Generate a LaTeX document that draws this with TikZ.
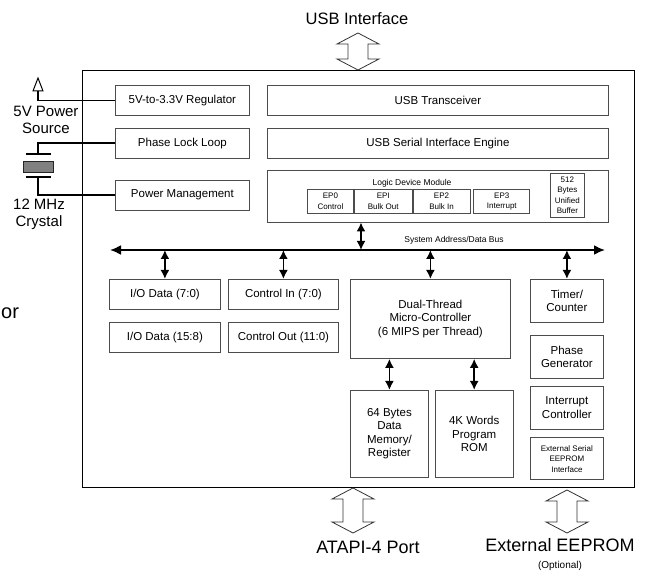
\documentclass[tikz,border=0pt]{standalone}
\usepackage{fontspec}
\setmainfont{Liberation Sans}
\usetikzlibrary{arrows.meta,positioning}

% hollow double-headed port arrow: centre x, top y, bottom y
\newcommand{\portarrow}[3]{%
  \draw[port] (#1,#2) -- ++(21,11) -- ++(-11,0) -- (#1+10,#3-11) -- ++(11,0)
    -- (#1,#3) -- ++(-21,-11) -- ++(11,0) -- (#1-10,#2+11) -- ++(-11,0) -- cycle;}

\begin{document}
\begin{tikzpicture}[
  x=1pt, y=-1pt,
  block/.style={rectangle, draw=black!70, line width=0.8pt, align=center,
                inner sep=1pt, anchor=north west,
                font=\fontsize{11.5}{13.5}\selectfont},
  epbox/.style={block, font=\fontsize{8}{10.5}\selectfont},
  wire/.style={line width=1.6pt},
  bus/.style={{Latex[length=11pt,width=10pt]}-{Latex[length=11pt,width=10pt]},
              line width=2pt},
  tap/.style={{Latex[length=9pt,width=9pt]}-{Latex[length=9pt,width=9pt]},
              line width=1.8pt},
  port/.style={draw=black!80, line width=0.8pt},
  biglabel/.style={align=center, font=\fontsize{15}{17}\selectfont},
]
  \useasboundingbox (0,0) rectangle (649,572);

  % Chip outline
  \node[block, draw=black, line width=1.2pt, minimum width=552pt,
        minimum height=417pt] (chip) at (82,70) {};

  % Left column
  \node[block, minimum width=134pt, minimum height=30pt] (reg) at (115,85) {5V-to-3.3V Regulator};
  \node[block, minimum width=134pt, minimum height=30pt, below=12pt of reg] (pll) {Phase Lock Loop};
  \node[block, minimum width=134pt, minimum height=30pt, below=21pt of pll] (pwr) {Power Management};

  % USB side
  \node[block, minimum width=341pt, minimum height=30pt] (xcvr) at (267,85) {USB Transceiver};
  \node[block, minimum width=341pt, minimum height=30pt, below=12pt of xcvr] (sie) {USB Serial Interface Engine};
  \node[block, minimum width=341pt, minimum height=52pt, below=11pt of sie] (ldm) {};
  \node[font=\fontsize{8.5}{10}\selectfont] (ldmlabel) at (412,183) {Logic Device Module};
  \node[epbox, minimum width=46pt, minimum height=24pt] (ep0) at (307,189) {EP0\\Control};
  \node[epbox, minimum width=58pt, minimum height=24pt, right=0pt of ep0] (ep1) {EPI\\Bulk Out};
  \node[epbox, minimum width=57pt, minimum height=24pt, right=0pt of ep1] (ep2) {EP2\\Bulk In};
  \node[epbox, minimum width=56pt, minimum height=24pt, right=3pt of ep2] (ep3) {EP3\\Interrupt};
  \node[epbox, minimum width=34pt, minimum height=44pt] (buf) at (550,173) {512\\Bytes\\Unified\\Buffer};

  % System bus
  \coordinate (busl) at (110,250);
  \coordinate (busr) at (605,250);
  \coordinate (ldmtap) at (361,250);
  \draw[bus] (busl) -- (busr);
  \node[font=\fontsize{8.5}{10}\selectfont] (buslabel) at (454,240) {System Address/Data Bus};
  \draw[tap] (ldmtap |- ldm.south) -- (ldmtap);

  % Blocks under the bus
  \node[block, minimum width=111pt, minimum height=30pt] (iolo) at (109,279) {I/O Data (7:0)};
  \node[block, minimum width=111pt, minimum height=30pt, below=12pt of iolo] (iohi) {I/O Data (15:8)};
  \node[block, minimum width=110pt, minimum height=30pt] (ctlin) at (228,279) {Control In (7:0)};
  \node[block, minimum width=110pt, minimum height=30pt, below=12pt of ctlin] (ctlout) {Control Out (11:0)};
  \node[block, minimum width=160pt, minimum height=79pt] (mcu) at (350,279) {Dual-Thread\\Micro-Controller\\(6 MIPS per Thread)};
  \node[block, minimum width=78pt, minimum height=87pt] (ram) at (350,390) {64 Bytes\\Data\\Memory/\\Register};
  \node[block, minimum width=78pt, minimum height=87pt, right=6pt of ram] (rom) {4K Words\\Program\\ROM};

  % Right column
  \node[block, minimum width=73pt, minimum height=43pt] (timer) at (530,279) {Timer/\\Counter};
  \node[block, minimum width=73pt, minimum height=43pt, below=12pt of timer] (phase) {Phase\\Generator};
  \node[block, minimum width=73pt, minimum height=43pt, below=7pt of phase] (intc) {Interrupt\\Controller};
  \node[epbox, minimum width=73pt, minimum height=42pt, below=8pt of intc] (eeif) {External Serial\\EEPROM\\Interface};

  % Bus taps
  \draw[tap] (iolo.north |- busl) -- (iolo.north);
  \draw[tap] (ctlin.north |- busl) -- (ctlin.north);
  \draw[tap] (mcu.north |- busl) -- (mcu.north);
  \draw[tap] (timer.north |- busl) -- (timer.north);
  \draw[tap] (ram.north |- mcu.south) -- (ram.north);
  \draw[tap] (rom.north |- mcu.south) -- (rom.north);

  % Power source and crystal
  \coordinate (vcc) at (38,91);
  \draw[line width=1pt] (vcc) -- ++(-5,0) -- ++(5,-13) -- ++(5,13) -- cycle;
  \draw[wire] (vcc) |- (reg.west);
  \node[biglabel] (vcclabel) at (46,119.5) {5V Power\\Source};
  \coordinate (platea) at (38,154);
  \coordinate (plateb) at (38,177);
  \node[draw=black!85, fill=black!50, line width=0.8pt, minimum width=30pt,
        minimum height=11pt, inner sep=0pt] (xtal) at (38,166.5) {};
  \draw[wire] ([xshift=-12.5pt]platea) -- ([xshift=12.5pt]platea);
  \draw[wire] ([xshift=-12.5pt]plateb) -- ([xshift=12.5pt]plateb);
  \draw[wire] (pll.west) -| (platea);
  \draw[wire] (plateb) |- (pwr.west);
  \node[biglabel] (xtallabel) at (39,214) {12 MHz\\Crystal};
  \node[anchor=base west, inner sep=0pt, font=\fontsize{20}{22}\selectfont] (ortext) at (1,319) {or};

  % External ports
  \portarrow{358}{33}{70}
  \portarrow{353}{488}{533}
  \portarrow{567}{490}{533}
  \node[font=\fontsize{16.5}{19}\selectfont] (usblabel) at (357,19) {USB Interface};
  \node[font=\fontsize{18}{20}\selectfont] (atapilabel) at (368,547) {ATAPI-4 Port};
  \node[font=\fontsize{18}{20}\selectfont] (eeplabel) at (560,545) {External EEPROM};
  \node[font=\fontsize{10}{12}\selectfont] (optlabel) at (560,566) {(Optional)};
\end{tikzpicture}
\end{document}
